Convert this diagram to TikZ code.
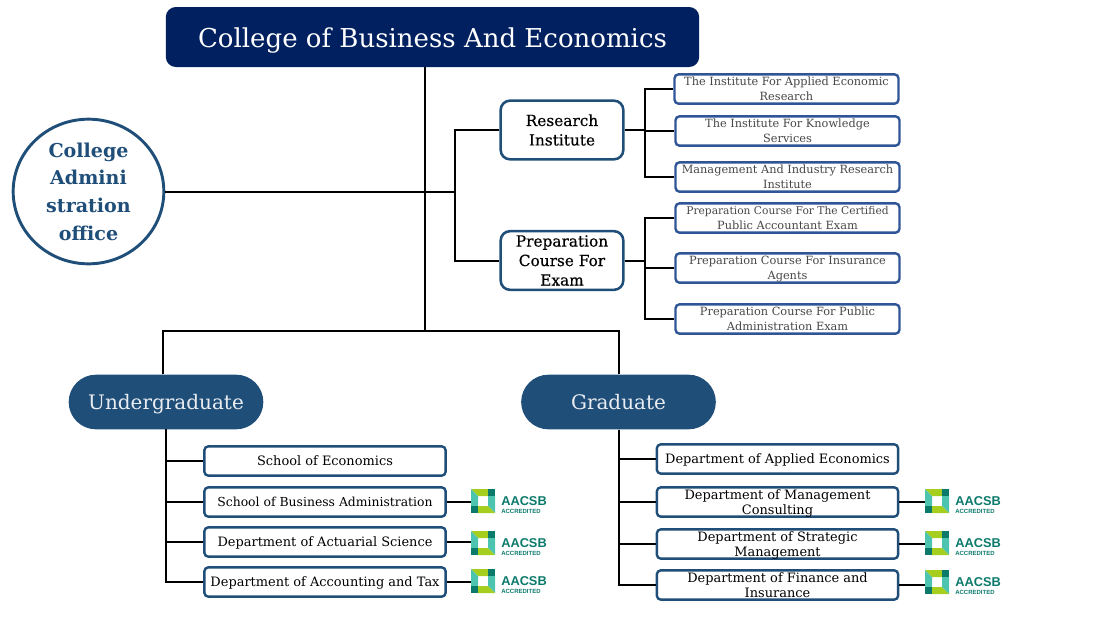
\documentclass[tikz,border=0pt]{standalone}
\usepackage{fontspec}
\setmainfont{DejaVu Serif}
\setsansfont{Liberation Sans}
\usetikzlibrary{shapes.geometric}
\definecolor{navy}{HTML}{002060}
\definecolor{steel}{HTML}{1F4E79}
\definecolor{boxblue}{HTML}{2F5597}
\definecolor{logodark}{HTML}{0B7A6B}
\definecolor{logoteal}{HTML}{4CC4B0}
\definecolor{logolime}{HTML}{A6CE1E}
\tikzset{
    wire/.style={line width=1.5pt, black},
    headbox/.style={rectangle, rounded corners=7.5pt, fill=navy, text=white, minimum width=400pt, minimum height=45pt, text height=17pt, text depth=2pt, inner ysep=0pt, font=\fontsize{19.5}{22}\selectfont},
    officecircle/.style={ellipse, draw=steel, line width=2.2pt, fill=white, text=steel, minimum width=113pt, minimum height=108.5pt, inner sep=0pt, align=center, font=\fontsize{14.3}{20.8}\selectfont\bfseries},
    groupbox/.style={rectangle, rounded corners=7pt, draw=steel, line width=1.9pt, fill=white, minimum width=92pt, minimum height=44pt, inner sep=0pt, align=center, font=\fontsize{11.5}{14.6}\selectfont\addfontfeature{FakeBold=0.4}},
    smallbox/.style={rectangle, rounded corners=3pt, draw=boxblue, line width=1.8pt, fill=white, text=black!72, minimum width=168pt, minimum height=22pt, inner sep=0pt, text depth=0pt, align=center, font=\fontsize{8.5}{11}\selectfont},
    deptbox/.style={rectangle, rounded corners=3pt, draw=steel, line width=1.8pt, fill=white, minimum width=181pt, minimum height=22pt, inner sep=0pt, text depth=0pt, align=center, font=\fontsize{9.7}{11.8}\selectfont},
    levelpill/.style={rectangle, rounded corners=20.5pt, fill=steel, text=white!90!steel, minimum width=146pt, minimum height=41pt, text height=13pt, text depth=1.3pt, inner ysep=0pt, font=\fontsize{15}{18}\selectfont},
    aacsb/.pic={
        % pinwheel
        \fill [logolime] (0,0) -- (17,0) -- (17,7) -- (7,7) -- cycle;
        \fill [logoteal] (0,0) -- (7,7) -- (7,17) -- (0,17) -- cycle;
        \fill [logodark] (17,0) rectangle (24,7);
        \fill [logoteal] (17,7) -- (24,7) -- (24,24) -- (17,17) -- cycle;
        \fill [logolime] (7,17) -- (17,17) -- (24,24) -- (7,24) -- cycle;
        \fill [logodark] (0,17) rectangle (7,24);
        \node [anchor=west, inner sep=0pt, text=logodark, font=\sffamily\bfseries\fontsize{9.6}{11}\selectfont] at (30,12) {AACSB};
        \node [anchor=west, inner sep=0pt, text=logodark, font=\sffamily\bfseries\fontsize{4.5}{5}\selectfont] at (30,22) {ACCREDITED};
    }
}
\begin{document}
\begin{tikzpicture}[x=0.75pt, y=-0.75pt]
    \useasboundingbox (0,0) rectangle (1100,619);

    % top and office
    \node [headbox] (college) at (432.5,37) {College of Business And Economics};
    \node [officecircle] (office) at (88.5,191.5) {College\\Admini\\stration\\office};

    % research and exam groups
    \node [groupbox] (research) at (562,130) {Research\\Institute};
    \node [groupbox] (prep) at (562,260.5) {Preparation\\Course For\\Exam};

    % undergraduate and graduate
    \node [levelpill] (under) at (166,402) {Undergraduate};
    \node [levelpill] (grad) at (618.5,402) {Graduate};

    % trunk
    \coordinate (trunk) at (425,331);
    \coordinate (rail) at (office.east -| 455,0);
    \draw [wire] (trunk |- college.south) -- (trunk);
    \draw [wire] (office.east) -- (rail);
    \draw [wire] (rail) |- (research.west);
    \draw [wire] (rail) |- (prep.west);
    \draw [wire] (under.north -| 163,0) |- (trunk) -| (grad.north);

    % institutes
    \coordinate (resbus) at (research.east -| 645,0);
    \draw [wire] (research.east) -- (resbus);
    \foreach \name/\y/\x/\txt in {
        inst1/89/786.5/{The Institute For Applied Economic\\Research},
        inst2/131/787.5/{The Institute For Knowledge\\Services},
        inst3/177/787.5/{Management And Industry Research\\Institute}} {
        \node [smallbox] (\name) at (\x,\y) {\txt};
        \draw [wire] (resbus) |- (\name.west);
    }

    % courses
    \coordinate (prepbus) at (prep.east -| 645,0);
    \draw [wire] (prep.east) -- (prepbus);
    \foreach \name/\y/\txt in {
        course1/218/{\fontsize{8}{10.5}\selectfont Preparation Course For The Certified\\Public Accountant Exam},
        course2/268/{Preparation Course For Insurance\\Agents},
        course3/319/{Preparation Course For Public\\Administration Exam}} {
        \node [smallbox] (\name) at (787.5,\y) {\txt};
        \draw [wire] (prepbus) |- (\name.west);
    }

    % undergraduate departments
    \coordinate (underbus) at (166,429);
    \foreach \name/\y/\txt in {
        ugdept1/461/{School of Economics},
        ugdept2/502/{\fontsize{9.3}{11.8}\selectfont School of Business Administration},
        ugdept3/542/{Department of Actuarial Science},
        ugdept4/582/{Department of Accounting and Tax}} {
        \node [deptbox] (\name) at (325,\y) {\txt};
        \draw [wire] (underbus) |- (\name.west);
    }

    % graduate departments
    \foreach \name/\y/\txt in {
        gdept1/459/{Department of Applied Economics},
        gdept2/502/{Department of Management\\Consulting},
        gdept3/544/{Department of Strategic\\Management},
        gdept4/585/{Department of Finance and\\Insurance}} {
        \node [deptbox] (\name) at (777.5,\y) {\txt};
        \draw [wire] (grad.south) |- (\name.west);
    }

    % accreditation marks
    \foreach \name/\dept/\x/\y in {
        ugmark2/ugdept2/471/489, ugmark3/ugdept3/471/531, ugmark4/ugdept4/471/569,
        gmark2/gdept2/925/489, gmark3/gdept3/925/531, gmark4/gdept4/925/570} {
        \pic at (\x,\y) {aacsb};
        \coordinate (\name) at (\x,\y+12);
        \draw [wire] (\dept.east) -- (\dept.east -| \name);
    }
\end{tikzpicture}
\end{document}
